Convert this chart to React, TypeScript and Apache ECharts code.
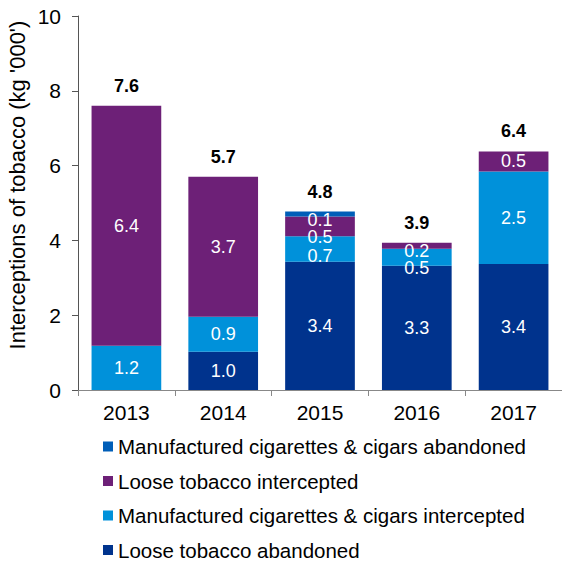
import React, { useEffect, useRef } from "react";
import * as echarts from "echarts";

const categories = ["2013", "2014", "2015", "2016", "2017"];
const looseAbandoned = [0, 1.02, 3.43, 3.32, 3.37];
const manufIntercepted = [1.18, 0.94, 0.68, 0.46, 2.47];
const looseIntercepted = [6.42, 3.74, 0.53, 0.16, 0.54];
const manufAbandoned = [0, 0, 0.13, 0, 0];
const yTicks = [0, 2, 4, 6, 8, 10];

const seriesNames = [
  "Loose tobacco abandoned",
  "Manufactured cigarettes & cigars intercepted",
  "Loose tobacco intercepted",
  "Manufactured cigarettes & cigars abandoned",
];
const seriesColors = ["#00338D", "#0091DA", "#6D2077", "#005EB8"];

// label vertical nudges (px) for crowded segments: key "series-category"
const labelNudge: Record<string, number> = {
  "1-2": 7,
  "2-2": 11,
  "3-2": 6,
  "1-3": 11,
  "2-3": 5,
};

const FONT = "Liberation Sans, Arial, sans-serif";

export default function App() {
  const ref = useRef<HTMLDivElement>(null);
  useEffect(() => {
    document.body.style.margin = "0";
    const chart = echarts.init(ref.current!, null, { renderer: "svg" });
    const all = [looseAbandoned, manufIntercepted, looseIntercepted, manufAbandoned];
    const totals = categories.map((_, i) => all.reduce((s, a) => s + a[i], 0));
    const series: any[] = all.map((arr, si) => ({
      name: seriesNames[si],
      type: "bar",
      stack: "t",
      barCategoryGap: "28%",
      itemStyle: { color: seriesColors[si] },
      data: arr.map((v, ci) => {
        const nudge = labelNudge[`${si}-${ci}`] || 0;
        return {
          value: v,
          label: {
            show: v > 0,
            offset: [0, nudge],
          },
        };
      }),
      label: {
        show: true,
        position: "inside",
        color: "#fff",
        fontSize: 18,
        lineHeight: 16,
        fontFamily: FONT,
        formatter: (p: any) => (p.value > 0 ? p.value.toFixed(1) : ""),
      },
    }));
    series.push({
      name: "Total",
      type: "bar",
      stack: "t",
      data: totals.map(() => 0),
      itemStyle: { color: "transparent" },
      label: {
        show: true,
        position: "top",
        distance: 11,
        color: "#000",
        fontWeight: "bold",
        fontSize: 18,
        fontFamily: FONT,
        formatter: (p: any) => totals[p.dataIndex].toFixed(1),
      },
    });
    chart.setOption({
      animation: false,
      textStyle: { fontFamily: FONT },
      grid: { left: 78, right: 0, top: 16, bottom: 172, containLabel: false },
      legend: {
        orient: "vertical",
        left: 103,
        top: 436,
        height: 200,
        padding: 0,
        itemWidth: 10,
        itemHeight: 10,
        itemGap: 13.5,
        icon: "rect",
        data: [seriesNames[3], seriesNames[2], seriesNames[1], seriesNames[0]],
        textStyle: { fontSize: 20.5, lineHeight: 20, color: "#000", fontFamily: FONT },
      },
      xAxis: {
        type: "category",
        data: categories,
        axisLine: { lineStyle: { color: "#888", width: 1 } },
        axisTick: { show: true, length: 6, lineStyle: { color: "#888" } },
        axisLabel: { fontSize: 21, color: "#000", margin: 12, fontFamily: FONT },
      },
      yAxis: {
        type: "value",
        min: yTicks[0],
        max: yTicks[yTicks.length - 1],
        interval: 2,
        axisLine: { show: true, lineStyle: { color: "#555", width: 1 } },
        axisTick: { show: true, length: 6, lineStyle: { color: "#555" } },
        splitLine: { show: false },
        axisLabel: { fontSize: 21, color: "#000", margin: 17, fontFamily: FONT },
      },
      graphic: [
        {
          type: "text",
          x: 17,
          y: 185,
          rotation: Math.PI / 2,
          style: {
            text: "Interceptions of tobacco (kg '000')",
            font: `22px ${FONT}`,
            fill: "#000",
            align: "center",
            verticalAlign: "middle",
          },
        },
      ],
      series,
    });
    return () => chart.dispose();
  }, []);
  return <div ref={ref} style={{ width: 562, height: 562 }} />;
}
